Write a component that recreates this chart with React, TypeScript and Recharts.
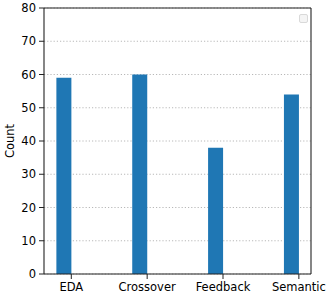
import React from 'react';
import { BarChart, Bar, XAxis, YAxis, CartesianGrid } from 'recharts';

const categories = ['EDA', 'Crossover', 'Feedback', 'Semantic'];
const counts = [59, 60, 38, 54];
const yTicks = [0, 10, 20, 30, 40, 50, 60, 70, 80];

const data = categories.map((name, i) => ({ idx: i, name, count: counts[i], other: null }));

const FONT = 'DejaVu Sans, sans-serif';
const tickStyle = { fontSize: 11.5, fill: '#000', fontFamily: FONT };
const spine = { stroke: '#222', strokeWidth: 1.1 };

export default function App() {
  return (
    <div style={{ position: 'absolute', left: 0, top: 0, width: 332, height: 299, background: '#fff' }}>
      <BarChart
        width={332}
        height={299}
        data={data}
        margin={{ top: 7, right: 20, bottom: 0, left: 0 }}
        barGap={0}
        barCategoryGap={0}
      >
        <CartesianGrid
          horizontal={true}
          vertical={false}
          stroke="#b0b0b0"
          strokeDasharray="1.2 2"
          strokeWidth={0.9}
        />
        <XAxis
          dataKey="idx"
          type="number"
          domain={[-0.36, 3.16]}
          ticks={[0, 1, 2, 3]}
          allowDataOverflow
          tickFormatter={(v: number) => categories[v] ?? ''}
          tick={tickStyle}
          height={25}
          axisLine={spine}
          tickLine={{ stroke: '#222' }}
          tickSize={5}
          tickMargin={4}
        />
        <XAxis
          xAxisId="top"
          orientation="top"
          dataKey="idx"
          type="number"
          domain={[-0.36, 3.16]}
          tick={false}
          tickLine={false}
          height={1}
          axisLine={spine}
        />
        <YAxis
          domain={[0, 80]}
          ticks={yTicks}
          width={44}
          tick={tickStyle}
          axisLine={spine}
          tickLine={{ stroke: '#222' }}
          tickSize={5}
          tickMargin={3}
          interval={0}
          label={{ value: 'Count', angle: -90, position: 'center', dx: -12, style: { fontSize: 11.5, fill: '#000', fontFamily: FONT } }}
        />
        <YAxis
          yAxisId="right"
          orientation="right"
          domain={[0, 80]}
          tick={false}
          tickLine={false}
          width={1}
          axisLine={spine}
        />
        <Bar dataKey="count" fill="#1f77b4" barSize={15} isAnimationActive={false} />
        <Bar dataKey="other" fill="#ff7f0e" barSize={15} isAnimationActive={false} />
      </BarChart>
      <div
        style={{
          position: 'absolute',
          left: 299,
          top: 14,
          width: 7,
          height: 7,
          border: '1px solid #d9d9d9',
          borderRadius: 2,
          background: '#f4f4f4',
        }}
      />
    </div>
  );
}
